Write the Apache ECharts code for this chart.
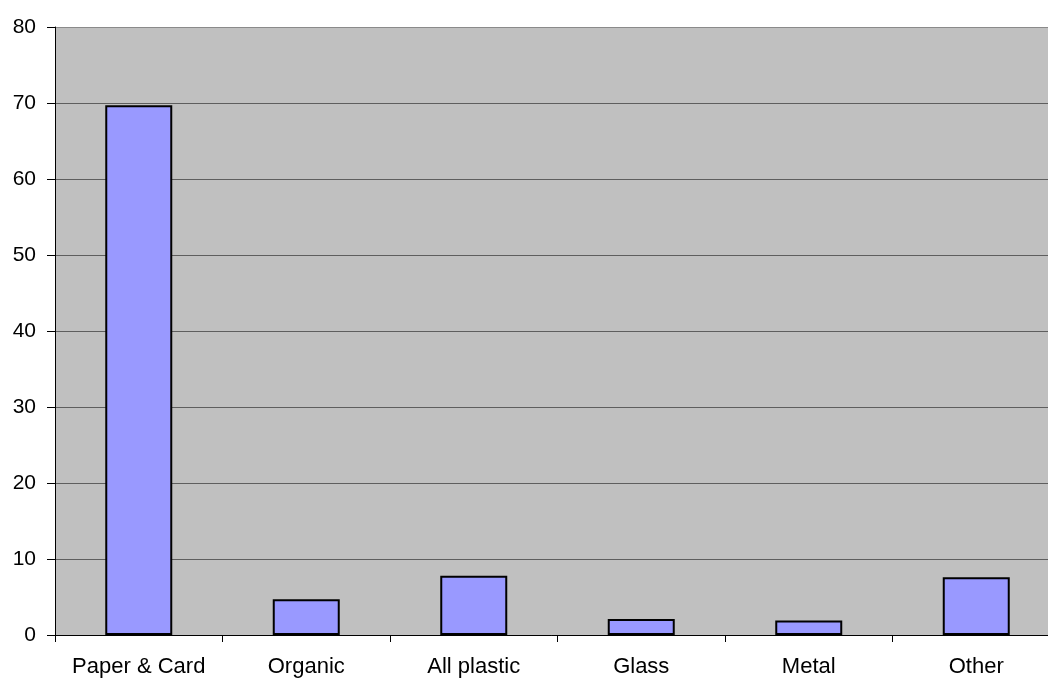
<!DOCTYPE html>
<html>
<head>
<meta charset="utf-8">
<style>
  html, body { margin: 0; padding: 0; background: #ffffff; }
  #chart { width: 1048px; height: 678px; }
</style>
<script src="https://cdn.jsdelivr.net/npm/echarts@6/dist/echarts.min.js"></script>
</head>
<body>
<div id="chart"></div>
<script>
// Waste composition by material
const categories = ['Paper & Card', 'Organic', 'All plastic', 'Glass', 'Metal', 'Other'];
const values = [69.7, 4.7, 7.8, 2.1, 1.9, 7.6];
const yTicks = [0, 10, 20, 30, 40, 50, 60, 70, 80];

const chart = echarts.init(document.getElementById('chart'), null, { renderer: 'canvas' });

const font = '"Liberation Sans", Arial, sans-serif';

// grid lines are dark grey; the topmost one is a lighter grey
const gridColors = yTicks.map((t, i) => (i === yTicks.length - 1 ? '#8a8a8a' : '#5e5e5e'));

chart.setOption({
  animation: false,
  backgroundColor: '#ffffff',
  textStyle: { fontFamily: font },
  grid: {
    left: 55,
    width: 1005,
    top: 27,
    bottom: 43,
    outerBoundsMode: 'none',
    containLabel: false,
    show: true,
    backgroundColor: '#c0c0c0',
    borderWidth: 0
  },
  xAxis: {
    type: 'category',
    data: categories,
    axisLine: { show: true, lineStyle: { color: '#000000', width: 1 } },
    axisTick: { show: true, length: 7, lineStyle: { color: '#000000' } },
    axisLabel: {
      color: '#000000',
      fontSize: 22,
      margin: 21,
      interval: 0,
      fontFamily: font
    },
    splitLine: { show: false }
  },
  yAxis: {
    type: 'value',
    min: yTicks[0],
    max: yTicks[yTicks.length - 1],
    interval: 10,
    axisLine: { show: true, lineStyle: { color: '#000000', width: 1 } },
    axisTick: { show: true, length: 8, inside: false, lineStyle: { color: '#000000' } },
    axisLabel: {
      color: '#000000',
      fontSize: 21,
      margin: 19,
      fontFamily: font
    },
    splitLine: { show: true, lineStyle: { color: gridColors, width: 1 } }
  },
  series: [{
    type: 'bar',
    data: values,
    barWidth: '40%',
    itemStyle: {
      color: '#9999ff',
      borderColor: '#000000',
      borderWidth: 2
    }
  }]
});
</script>
</body>
</html>
